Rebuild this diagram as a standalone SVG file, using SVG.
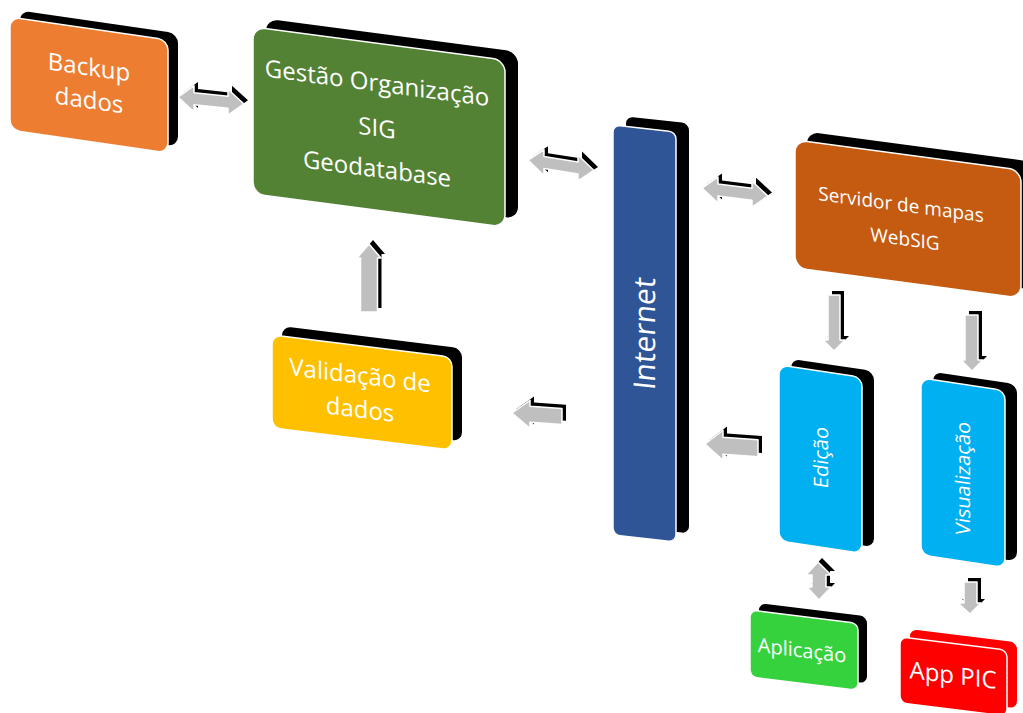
<svg xmlns="http://www.w3.org/2000/svg" width="1023" height="713" viewBox="0 0 1023 713">
  <style>
    .depth{fill:#000}
    .face{stroke:#fff;stroke-width:1.5}
    .lbl{font-family:"Open Sans","Noto Sans",sans-serif;fill:#fff;text-anchor:middle}
    .ext{fill:#000}
    .arw{fill:#BFBFBF;stroke:#fff;stroke-width:1.5;stroke-linejoin:round}
  </style>
  <defs>
    <!-- horizontal double arrow, 66 long, tip at origin -->
    <path id="dbl" d="M0,0 L16,-13 L16,-6 L50,-6 L50,-13 L66,0 L50,13 L50,6 L16,6 L16,13 Z"/>
  </defs>

  <rect width="1023" height="713" fill="#fff"/>

  <!-- connectors -->
  <g id="connectors">
    <g transform="translate(178,97) skewY(6)">
      <use href="#dbl" class="ext" transform="translate(4,-4)"/>
      <use href="#dbl" class="arw"/>
    </g>
    <g transform="translate(528,160) skewY(9)">
      <use href="#dbl" class="ext" transform="translate(4,-4)"/>
      <use href="#dbl" class="arw"/>
    </g>
    <g transform="translate(702,188) skewY(7)">
      <use href="#dbl" class="ext" transform="translate(4,-4)"/>
      <use href="#dbl" class="arw"/>
    </g>
    <!-- Internet to Validação -->
    <g transform="translate(512,413) skewY(4)">
      <path class="ext" transform="translate(4,-4)" d="M0,0 L18,-14 L18,-8 L50,-8 L50,8 L18,8 L18,14 Z"/>
      <path class="arw" d="M0,0 L18,-14 L18,-8 L50,-8 L50,8 L18,8 L18,14 Z"/>
    </g>
    <!-- Edição to Internet -->
    <g transform="translate(705,444) skewY(4)">
      <path class="ext" transform="translate(4,-4)" d="M0,0 L18,-15 L18,-8 L53,-8 L53,9 L18,9 L18,15 Z"/>
      <path class="arw" d="M0,0 L18,-15 L18,-8 L53,-8 L53,9 L18,9 L18,15 Z"/>
    </g>
    <!-- Validação up to Gestão -->
    <path class="ext" transform="translate(4,-4)" d="M369,244 L381,258 L377.5,258 L377.5,312 L360.5,312 L360.5,258 L357,258 Z"/>
    <path class="arw" d="M369,244 L381,258 L377.5,258 L377.5,312 L360.5,312 L360.5,258 L357,258 Z"/>
    <!-- Servidor down to Edição -->
    <path class="ext" transform="translate(4,-4)" d="M828,295 L840,295 L840,340 L845,340 L834,351 L823,340 L828,340 Z"/>
    <path class="arw" d="M828,295 L840,295 L840,340 L845,340 L834,351 L823,340 L828,340 Z"/>
    <!-- Servidor down to Visualização -->
    <path class="ext" transform="translate(4,-4)" d="M965,315 L978,315 L978,360 L983,360 L972,371 L961,360 L965,360 Z"/>
    <path class="arw" d="M965,315 L978,315 L978,360 L983,360 L972,371 L961,360 L965,360 Z"/>
    <!-- Edição and Aplicação -->
    <path class="ext" transform="translate(4,-4)" d="M818,562 L831,575 L826,575 L826,587 L831,587 L819,600 L807,587 L812,587 L812,575 L806,575 Z"/>
    <path class="arw" d="M818,562 L831,575 L826,575 L826,587 L831,587 L819,600 L807,587 L812,587 L812,575 L806,575 Z"/>
    <!-- Visualização down to App PIC -->
    <path class="ext" transform="translate(4,-4)" d="M964,582 L977,582 L977,603 L981,603 L970,614 L958,603 L964,603 Z"/>
    <path class="arw" d="M964,582 L977,582 L977,603 L981,603 L970,614 L958,603 L964,603 Z"/>
  </g>

  <!-- Backup dados -->
  <g id="backup" transform="translate(10,17) skewY(8.3)">
    <rect class="depth" x="10" y="-8" width="158" height="113" rx="10"/>
    <rect class="face" width="158" height="113" rx="10" fill="#ED7D31"/>
    <text class="lbl" x="79" y="47" font-size="24">Backup</text>
    <text class="lbl" x="79" y="80" font-size="24">dados</text>
  </g>

  <!-- Gestão Organização SIG Geodatabase -->
  <g id="gestao" transform="translate(253,27) skewY(7.5)">
    <rect class="depth" x="13" y="-10" width="252" height="167" rx="12"/>
    <rect class="face" width="252" height="167" rx="12" fill="#548235"/>
    <text class="lbl" x="124" y="48" font-size="24" font-family="Lato">Gestão Organização</text>
    <text class="lbl" x="124" y="93" font-size="24" font-family="Lato">SIG</text>
    <text class="lbl" x="124" y="134" font-size="24" font-family="Lato">Geodatabase</text>
  </g>

  <!-- Internet -->
  <g id="internet" transform="translate(613,125) skewY(6.3)">
    <rect class="depth" x="13" y="-10" width="63" height="410" rx="7"/>
    <rect class="face" width="63" height="410" rx="7" fill="#2F5597"/>
    <text class="lbl" font-size="30" transform="translate(42,205) rotate(-90)">Internet</text>
  </g>

  <!-- Servidor de mapas WebSIG -->
  <g id="servidor" transform="translate(795,140) skewY(7.6)">
    <rect class="depth" x="12" y="-10" width="226" height="128" rx="12"/>
    <rect class="face" width="226" height="128" rx="12" fill="#C55A11"/>
    <text class="lbl" x="106" y="57" font-size="19">Servidor de mapas</text>
    <text class="lbl" x="110" y="91" font-size="19">WebSIG</text>
  </g>

  <!-- Validação de dados -->
  <g id="validacao" transform="translate(272,335) skewY(7)">
    <rect class="depth" x="10" y="-10" width="180" height="93" rx="9"/>
    <rect class="face" width="180" height="93" rx="9" fill="#FFC000"/>
    <text class="lbl" x="88" y="38" font-size="24">Validação de</text>
    <text class="lbl" x="88" y="72" font-size="24">dados</text>
  </g>

  <!-- Edição -->
  <g id="edicao" transform="translate(779,365) skewY(8.5)">
    <rect class="depth" x="12" y="-8" width="83" height="176" rx="9"/>
    <rect class="face" width="83" height="176" rx="9" fill="#00B0F0"/>
    <text class="lbl" font-size="20" transform="translate(49,86) rotate(-90)">Edição</text>
  </g>

  <!-- Visualização -->
  <g id="visualizacao" transform="translate(921,378) skewY(8.5)">
    <rect class="depth" x="12" y="-8" width="84" height="177" rx="9"/>
    <rect class="face" width="84" height="177" rx="9" fill="#00B0F0"/>
    <text class="lbl" font-size="20" transform="translate(49,94) rotate(-90)">Visualização</text>
  </g>

  <!-- Aplicação -->
  <g id="aplicacao" transform="translate(750,610) skewY(7)">
    <rect class="depth" x="9" y="-8" width="108" height="67" rx="7"/>
    <rect class="face" width="108" height="67" rx="7" fill="#36D23E"/>
    <text class="lbl" x="52" y="41" font-size="20">Aplicação</text>
  </g>

  <!-- App PIC -->
  <g id="apppic" transform="translate(900,637) skewY(7)">
    <rect x="10" y="-9" width="107" height="66" rx="7" fill="#FF0000"/>
    <rect class="face" width="107" height="66" rx="7" fill="#FF0000"/>
    <text class="lbl" x="53" y="40" font-size="24">App PIC</text>
  </g>
</svg>
